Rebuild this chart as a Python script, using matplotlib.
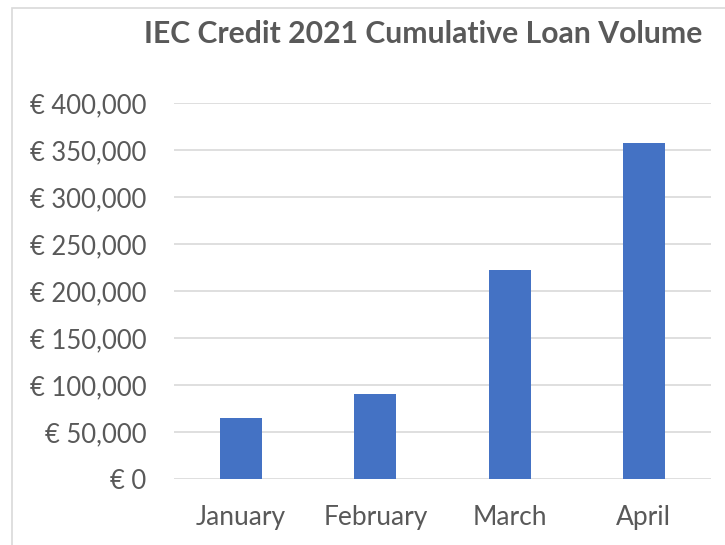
import matplotlib.pyplot as plt
from matplotlib.patches import Rectangle
from matplotlib.ticker import FuncFormatter

# data
months = ['January', 'February', 'March', 'April']
volume = [64500, 90000, 222000, 357000]
y_ticks = list(range(0, 400001, 50000))

plt.rcParams['font.family'] = ['Lato', 'DejaVu Sans']


def fit_size(text, size, width_px, **kw):
    # pick a font size so the text comes out about width_px wide
    t = fig.text(0, 0, text, fontsize=size, **kw)
    w = t.get_window_extent(renderer=fig.canvas.get_renderer()).width
    t.remove()
    return size * width_px / w


fig = plt.figure(figsize=(7.25, 5.45), dpi=100)
ax = fig.add_axes([0.24, 0.1211, 0.7407, 0.69])

ax.bar(range(len(months)), volume, width=0.313, color='#4472C4', zorder=3)

ax.set_xlim(-0.5, len(months) - 0.5)
ax.set_ylim(0, 400000)
ax.set_yticks(y_ticks)
ax.yaxis.set_major_formatter(FuncFormatter(lambda v, p: '€ {:,.0f}'.format(v)))
ax.set_xticks(range(len(months)))
ax.set_xticklabels(months)

ax.grid(axis='y', color='#D9D9D9', linewidth=1.2, zorder=0)
for s in ax.spines.values():
    s.set_visible(False)

ysize = fit_size('€ 400,000', 15, 117)
xsize = fit_size('January', 15, 90)
ax.tick_params(length=0, colors='#595959')
ax.tick_params(axis='y', labelsize=ysize, pad=20)
ax.tick_params(axis='x', labelsize=xsize, pad=19)

tsize = fit_size('IEC Credit 2021 Cumulative Loan Volume', 17, 559, fontweight='bold')
fig.text(144 / 725, 1 - 43 / 545, 'IEC Credit 2021 Cumulative Loan Volume', ha='left', va='baseline',
         fontsize=tsize, fontweight='bold', color='#595959')

# chart border
fig.patches.append(Rectangle((12 / 725, -0.1), 1.2, 1.1 - 8 / 545, transform=fig.transFigure,
                             fill=False, edgecolor='#D9D9D9', linewidth=1.2))

fig.savefig('out.png', dpi=100)
